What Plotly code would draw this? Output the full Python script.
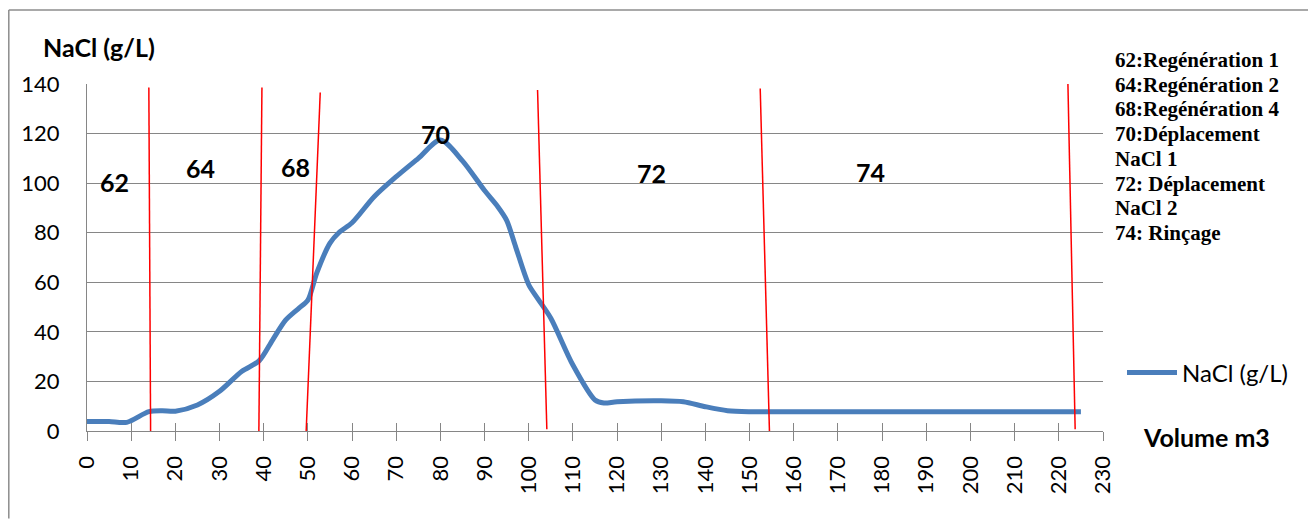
import plotly.graph_objects as go

# ---- data ----
volume = [0, 5, 9, 14, 17, 20, 25, 30, 35, 39, 42, 45, 48, 50, 52, 55, 57, 60, 65, 70,
          75, 80, 85, 90, 93, 95, 97, 100, 102, 105, 110, 115, 117, 120, 130, 135, 140, 145,
          150, 160, 170, 180, 190, 200, 210, 225]
nacl = [3.8, 3.8, 3.5, 7.8, 8.2, 8.0, 10.5, 16.0, 24.0, 28.4, 36.7, 44.8, 49.6, 52.8, 63.7,
        75.8, 80.0, 84.0, 94.5, 102.6, 110.0, 117.4, 109.0, 97.0, 90.5, 85.0, 74.5, 59.0,
        53.5, 45.5, 26.6, 12.5, 11.3, 11.8, 12.2, 11.8, 9.8, 8.2, 7.8, 7.8, 7.8, 7.8, 7.8,
        7.8, 7.8, 7.8]

# phase boundary lines (slightly slanted, as drawn in the original)
bound_x_top = [14.0, 39.6, 52.8, 102.0, 152.4, 222.0]
bound_y_top = [138.6, 138.6, 136.6, 137.6, 138.2, 144.9]
bound_x_bot = [14.4, 38.9, 49.6, 104.1, 154.5, 223.7]
bound_y_bot = [-0.7, -1.2, -0.7, 0.7, -0.7, 0.7]

phase_labels = ["62", "64", "68", "70", "72", "74"]
phase_x = [6.3, 25.8, 47.1, 79.0, 127.9, 177.3]
phase_y = [100.4, 106.0, 106.5, 119.8, 104.0, 104.5]

notes = ["62:Regénération 1", "64:Regénération 2", "68:Regénération 4",
         "70:Déplacement", "NaCl 1", "72: Déplacement", "NaCl 2", "74: Rinçage"]

x_ticks = list(range(0, 231, 10))
y_ticks = list(range(0, 141, 20))

OFF = 8  # page body margin
W, H = 1316 - OFF, 519 - OFF
PL, PR, PT, PB = 87, 1103, 84, 431  # plot area in page pixels
L, R, T, B = PL - OFF, W - (PR - OFF), PT - OFF, H - (PB - OFF)
pw, ph = PR - PL, PB - PT

def px_x(p):
    return (p - PL) / pw

def px_y(p):
    return (PB - p) / ph

fig = go.Figure()

fig.add_trace(go.Scatter(x=volume, y=nacl, mode="lines", name="NaCl (g/L)",
                         line=dict(color="#4A7EBB", width=5, shape="spline", smoothing=0.8)))

for xt, yt, xb, yb in zip(bound_x_top, bound_y_top, bound_x_bot, bound_y_bot):
    fig.add_trace(go.Scatter(x=[xt, xb], y=[yt, yb], mode="lines", showlegend=False,
                             line=dict(color="#FF0000", width=1.5), cliponaxis=False,
                             hoverinfo="skip"))

# helper trace so the crossing-tick axis is drawn
fig.add_trace(go.Scatter(x=[0], y=[None], xaxis="x2", mode="lines", showlegend=False,
                         hoverinfo="skip"))

for lab, lx, ly in zip(phase_labels, phase_x, phase_y):
    fig.add_annotation(x=lx, y=ly, text=lab, showarrow=False,
                       font=dict(family="Lato", size=25, color="black", weight="bold"))

for i, t in enumerate(notes):
    fig.add_annotation(xref="paper", yref="paper", x=px_x(1113), y=px_y(60 + i * 24.7),
                       text=t, showarrow=False, xanchor="left", yanchor="middle",
                       font=dict(family="Liberation Serif", size=21, color="black", weight="bold"))

fig.add_annotation(xref="paper", yref="paper", x=px_x(99), y=px_y(47), text="NaCl (g/L)",
                   showarrow=False, xanchor="center", yanchor="middle",
                   font=dict(family="Lato", size=25, color="black", weight="bold"))
fig.add_annotation(xref="paper", yref="paper", x=px_x(1206), y=px_y(437), text="Volume m3",
                   showarrow=False, xanchor="center", yanchor="middle",
                   font=dict(family="Lato", size=25, color="black", weight="bold"))

# outer border (top, left, right)
bx0, bx1, by_top, by_bot = px_x(8.8), px_x(1313.5), px_y(10), px_y(518.5)
for xa, ya, xb_, yb_ in [(bx0, by_top, bx1, by_top), (bx0, by_top, bx0, by_bot),
                         (bx1, by_top, bx1, by_bot)]:
    fig.add_shape(type="line", xref="paper", yref="paper", x0=xa, y0=ya, x1=xb_, y1=yb_,
                  line=dict(color="#8C8C8C", width=1.5), layer="below")

fig.update_layout(
    width=W, height=H,
    margin=dict(l=L, r=R, t=T, b=B, autoexpand=False),
    paper_bgcolor="white", plot_bgcolor="white",
    font=dict(family="Lato", size=22, color="black"),
    showlegend=True,
    legend=dict(x=px_x(1122), y=px_y(373), xanchor="left", yanchor="middle",
                font=dict(family="Lato", size=24, color="black"),
                bgcolor="rgba(0,0,0,0)", itemwidth=50),
    xaxis=dict(range=[0, 230], tickmode="array", tickvals=x_ticks,
               ticktext=[str(v) for v in x_ticks], tickangle=-90,
               ticks="outside", ticklen=9, tickwidth=1.3, tickcolor="#868686",
               showline=True, linecolor="#868686", linewidth=1.3,
               showgrid=False, zeroline=False, ticklabelstandoff=6),
    xaxis2=dict(range=[0, 230], overlaying="x", anchor="y", side="bottom",
                tickmode="array", tickvals=x_ticks, showticklabels=False,
                ticks="inside", ticklen=8, tickwidth=1.3, tickcolor="#868686",
                showline=False, showgrid=False, zeroline=False),
    yaxis=dict(range=[0, 140], tickmode="array", tickvals=y_ticks,
               ticktext=[str(v) for v in y_ticks], ticks="",
               showline=True, linecolor="#868686", linewidth=1.3,
               showgrid=True, gridcolor="#868686", gridwidth=1.3,
               zeroline=False, ticklabelstandoff=22),
)

fig.write_html("out.html")
